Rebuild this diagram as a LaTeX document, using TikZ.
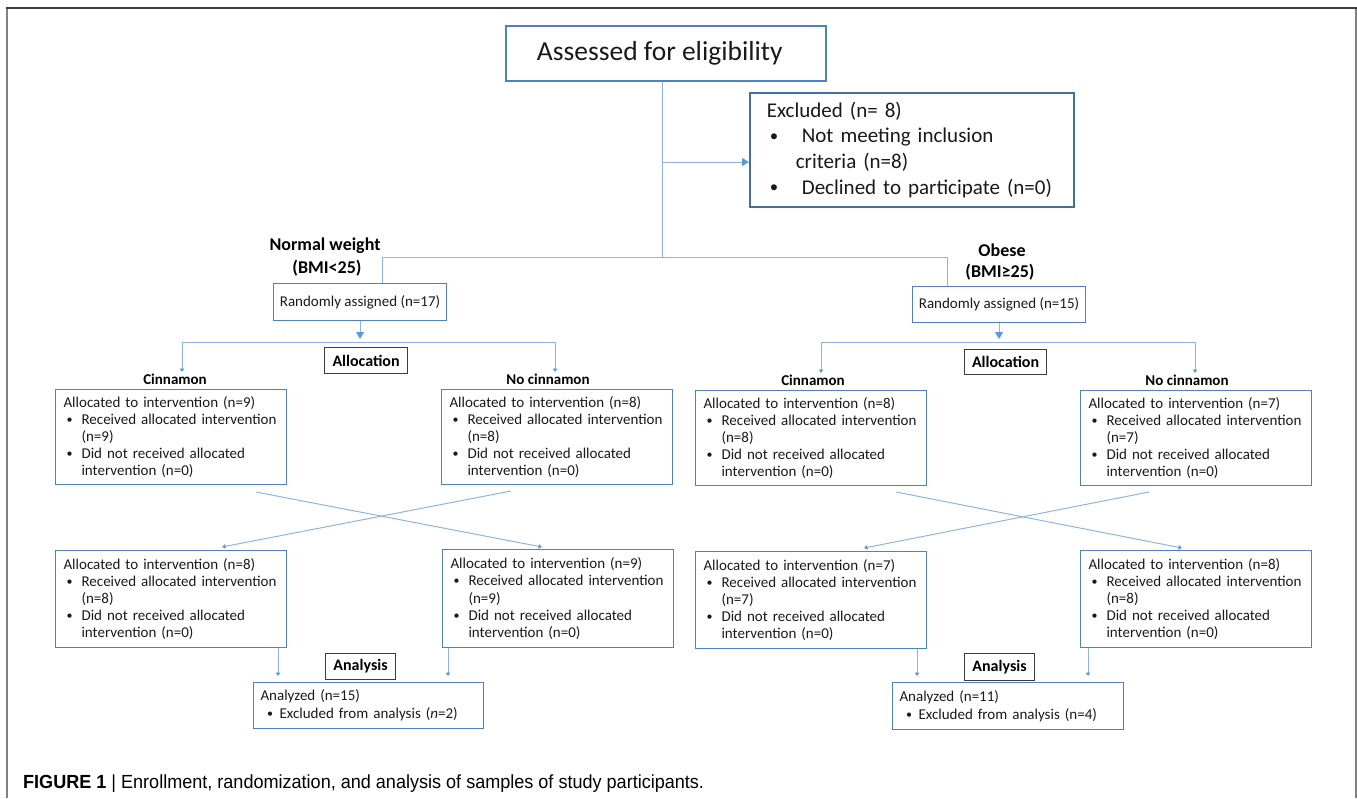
\documentclass[tikz,border=0pt]{standalone}
\usepackage{fontspec}
\setmainfont{Carlito}
\newfontfamily\capfont[FakeStretch=0.95]{Liberation Sans}
\usetikzlibrary{arrows.meta}
\definecolor{boxblue}{RGB}{79,129,189}
\definecolor{darkblue}{RGB}{65,113,156}
\definecolor{lineblue}{RGB}{141,180,226}
\definecolor{tipblue}{RGB}{91,155,213}
\definecolor{txt}{RGB}{25,25,25}
\definecolor{framedark}{RGB}{60,60,60}
\definecolor{framegray}{RGB}{128,128,128}
\newcommand\dotb{\raisebox{0.08em}{\scalebox{0.8}{•}}}
\newcommand\bl[3][3pt]{\mbox{\makebox[#2][l]{\hspace{#1}\dotb}#3}}
\newcommand\allocbox[2]{\mbox{Allocated to intervention (n=#1)}\\
\bl{18pt}{Received allocated intervention}\\
\mbox{\hspace*{18pt}(n=#2)}\\
\bl{18pt}{Did not received allocated}\\
\mbox{\hspace*{18pt}intervention (n=0)}}
\tikzset{
  bx/.style={draw=boxblue, line width=1.1pt, inner sep=0pt, anchor=north west, text=txt},
  listbox/.style={bx, minimum width=231pt, minimum height=95pt, text width=215pt, inner xsep=8pt, align=left, font=\fontsize{15}{17.2}\selectfont},
  kbox/.style={draw=framedark, line width=1.1pt, inner sep=0pt, anchor=north west, text=black, font=\bfseries\fontsize{16}{19}\selectfont},
  lbl/.style={text=black, inner sep=0pt, font=\bfseries\fontsize{18}{21}\selectfont},
  armlbl/.style={text=black, inner sep=0pt, font=\bfseries\fontsize{15}{18}\selectfont},
  conn/.style={draw=lineblue, line width=1pt},
  bigarrow/.style={-{Triangle[width=8pt,length=7pt,color=tipblue,fill=tipblue]}},
  smallarrow/.style={-{Triangle[width=4.5pt,length=3.5pt,color=tipblue,fill=tipblue]}},
}
\begin{document}
\begin{tikzpicture}[x=1pt,y=-1pt]
\useasboundingbox (0,0) rectangle (1357,798);
% frame
\draw[framegray, line width=2pt] (7,798) -- (7,8);
\draw[framegray, line width=2pt] (1356,8) -- (1356,798);
\draw[framedark, line width=2pt] (6,8) -- (1357,8);

% top
\node[bx, line width=1.6pt, minimum width=320pt, minimum height=55pt, font=\fontsize{27.5}{32}\selectfont] (a) at (505,25) {\hspace*{-12pt}Assessed for eligibility};
\node[bx, draw=darkblue, line width=1.7pt, minimum width=324pt, minimum height=114pt, text width=290pt, inner xsep=17pt, align=left, font=\fontsize{21}{25.7}\selectfont] (ex) at (749,92)
 {\mbox{Excluded (n= 8)}\\
  \bl{35pt}{Not meeting inclusion}\\
  \mbox{\hspace*{29pt}criteria (n=8)}\\
  \bl{35pt}{Declined to participate (n=0)}};

\coordinate (br) at (662,257);
\coordinate (exa) at (662,162);
\coordinate (bl) at (382,257);
\coordinate (brr) at (947,257);

\node[lbl] (nw1) at (325,246) {Normal weight};
\node[lbl] (nw2) at (327,268) {(BMI<25)};
\node[lbl] (ob1) at (1002,250) {Obese};
\node[lbl] (ob2) at (1000,272) {(BMI≥25)};

\node[bx, minimum width=173pt, minimum height=37pt, font=\fontsize{15}{18}\selectfont] (rn) at (273,283) {Randomly assigned (n=17)};
\node[bx, minimum width=173pt, minimum height=36pt, font=\fontsize{15}{18}\selectfont] (ro) at (912,286) {Randomly assigned (n=15)};

\draw[conn] (br |- a.south) -- (br);
\draw[conn, bigarrow] (exa) -- (exa -| ex.west);
\draw[conn] (bl |- rn.north) -- (bl) -- (brr) -- (brr |- ro.north);

% allocation
\node[kbox, minimum width=83pt, minimum height=26pt] (alN) at (324,347) {Allocation};
\node[kbox, minimum width=82pt, minimum height=25pt] (alO) at (964,349) {Allocation};

\node[armlbl] (cnN) at (175,379) {Cinnamon};
\node[armlbl] (ncN) at (548,379) {No cinnamon};
\node[armlbl] (cnO) at (813,380) {Cinnamon};
\node[armlbl] (ncO) at (1187,380) {No cinnamon};

\coordinate (hN) at (367,342);
\coordinate (tN1) at (182,372);
\coordinate (tN2) at (555,372);
\coordinate (hO) at (1008,342);
\coordinate (tO1) at (821,373);
\coordinate (tO2) at (1195,373);

\draw[conn, bigarrow, shorten >=3pt] (rn.south) -- (rn.south |- hN);
\draw[conn, bigarrow, shorten >=3pt] (ro.south) -- (ro.south |- hO);
\draw[conn, smallarrow] (hN) -| (tN1);
\draw[conn, smallarrow] (hN) -| (tN2);
\draw[conn, smallarrow] (hO) -| (tO1);
\draw[conn, smallarrow] (hO) -| (tO2);

\node[listbox] (uNL) at (55,389) {\allocbox{9}{9}};
\node[listbox] (uNR) at (441,389) {\allocbox{8}{8}};
\node[listbox] (uOL) at (695,390) {\allocbox{8}{8}};
\node[listbox] (uOR) at (1080,390) {\allocbox{7}{7}};

% crossing
\coordinate (x1s) at (256,492); \coordinate (x1e) at (542,547);
\coordinate (x2s) at (511,491); \coordinate (x2e) at (222,547);
\coordinate (x3s) at (896,492); \coordinate (x3e) at (1182,548);
\coordinate (x4s) at (1149,492); \coordinate (x4e) at (864,548);
\draw[conn, smallarrow] (x1s) -- (x1e);
\draw[conn, smallarrow] (x2s) -- (x2e);
\draw[conn, smallarrow] (x3s) -- (x3e);
\draw[conn, smallarrow] (x4s) -- (x4e);

\node[listbox, minimum height=97pt] (lNL) at (55,550) {\allocbox{8}{8}};
\node[listbox, minimum height=98pt] (lNR) at (442,549) {\allocbox{9}{9}};
\node[listbox, minimum height=97pt] (lOL) at (695,551) {\allocbox{7}{7}};
\node[listbox, minimum height=97pt] (lOR) at (1080,550) {\allocbox{8}{8}};

% analysis
\node[kbox, minimum width=70pt, minimum height=26pt] (anN) at (325,653) {Analysis};
\node[kbox, minimum width=70pt, minimum height=27pt] (anO) at (964,653) {Analysis};

\node[bx, minimum width=230pt, minimum height=46pt, text width=222pt, inner xsep=4pt, align=left, font=\fontsize{15}{18}\selectfont] (azN) at (253,682)
 {\mbox{\hspace*{3pt}Analyzed (n=15)}\\ \bl[9.5pt]{22pt}{Excluded from analysis (\textit{n}=2)}};
\node[bx, minimum width=231pt, minimum height=47pt, text width=223pt, inner xsep=4pt, align=left, font=\fontsize{15}{18}\selectfont] (azO) at (892,682)
 {\mbox{\hspace*{3pt}Analyzed (n=11)}\\ \bl[9.5pt]{22pt}{Excluded from analysis (n=4)}};

\coordinate (d1) at (278,0); \coordinate (d2) at (448,0);
\coordinate (d3) at (917,0); \coordinate (d4) at (1088,0);
\draw[conn, smallarrow, shorten >=6pt] (lNL.south -| d1) -- (azN.north -| d1);
\draw[conn, smallarrow, shorten >=6pt] (lNR.south -| d2) -- (azN.north -| d2);
\draw[conn, smallarrow, shorten >=6pt] (lOL.south -| d3) -- (azO.north -| d3);
\draw[conn, smallarrow, shorten >=6pt] (lOR.south -| d4) -- (azO.north -| d4);

% caption
\node[anchor=west, inner sep=0pt, text=black, font=\capfont\fontsize{19}{22}\selectfont] (cap) at (23,784) {\textbf{FIGURE 1} | Enrollment, randomization, and analysis of samples of study participants.};
\end{tikzpicture}
\end{document}
